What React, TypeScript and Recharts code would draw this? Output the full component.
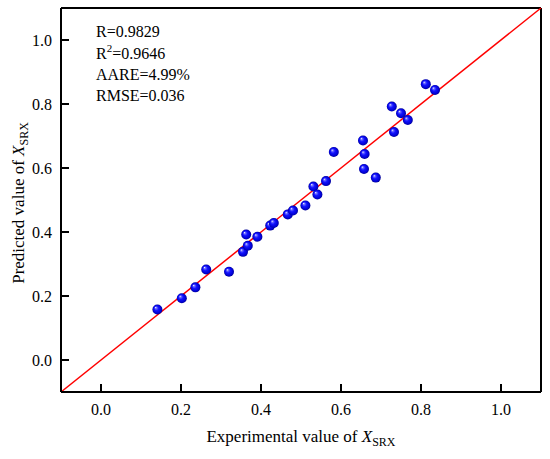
import React from 'react';
import {
  ScatterChart,
  Scatter,
  XAxis,
  YAxis,
  ReferenceLine,
  Customized,
} from 'recharts';

const expX = [0.141, 0.202, 0.236, 0.263, 0.32, 0.355, 0.367, 0.363, 0.391, 0.423, 0.432, 0.467, 0.48, 0.511, 0.531, 0.541, 0.5625, 0.582, 0.655, 0.659, 0.6575, 0.687, 0.7325, 0.727, 0.75, 0.767, 0.812, 0.835];
const predY = [0.158, 0.193, 0.227, 0.283, 0.276, 0.338, 0.357, 0.392, 0.385, 0.42, 0.428, 0.455, 0.467, 0.483, 0.542, 0.517, 0.559, 0.65, 0.686, 0.644, 0.597, 0.57, 0.7125, 0.792, 0.771, 0.75, 0.862, 0.844];
const axisTicks = [0, 0.2, 0.4, 0.6, 0.8, 1.0];
const axisDomain = [-0.1, 1.1];

const data = expX.map((x, i) => ({ x, y: predY[i] }));

const FONT = '"Liberation Serif", "Times New Roman", serif';

const Ball = (props: any) => {
  const { cx, cy } = props;
  if (cx == null || cy == null) return null;
  return <circle cx={cx} cy={cy} r={5} fill="url(#ballGrad)" />;
};

const Annotations = () => (
  <g fontFamily={FONT} fill="#000">
    <defs>
      <radialGradient id="ballGrad" cx="50%" cy="50%" r="50%" fx="32%" fy="30%">
        <stop offset="0%" stopColor="#ffffff" />
        <stop offset="18%" stopColor="#7070ff" />
        <stop offset="45%" stopColor="#1414ff" />
        <stop offset="85%" stopColor="#0000d0" />
        <stop offset="100%" stopColor="#000090" />
      </radialGradient>
    </defs>
    <text x={96} y={37} fontSize={16}>R=0.9829</text>
    <text x={96} y={59} fontSize={16}>
      R<tspan fontSize={11} dy={-7}>2</tspan>
      <tspan dy={7}>=0.9646</tspan>
    </text>
    <text x={96} y={80} fontSize={16}>AARE=4.99%</text>
    <text x={96} y={101} fontSize={16}>RMSE=0.036</text>
    <text x={301} y={442} fontSize={17} textAnchor="middle">
      Experimental value of <tspan fontStyle="italic">X</tspan>
      <tspan fontSize={12} dy={4}>SRX</tspan>
    </text>
    <text x={24} y={203} fontSize={17} textAnchor="middle" transform="rotate(-90 24 203)">
      Predicted value of <tspan fontStyle="italic">X</tspan>
      <tspan fontSize={12} dy={4}>SRX</tspan>
    </text>
  </g>
);

export default function App() {
  return (
    <div style={{ position: 'absolute', left: 0, top: 0, background: '#fff' }}>
      <ScatterChart
        width={550}
        height={459}
        margin={{ top: 8, right: 9, bottom: 27, left: 0 }}
        style={{ fontFamily: FONT }}
      >
        <XAxis
          type="number"
          dataKey="x"
          domain={axisDomain}
          ticks={axisTicks}
          allowDataOverflow
          height={40}
          tickSize={-8}
          tickMargin={20}
          tickFormatter={(v: number) => v.toFixed(1)}
          tick={{ fill: '#000', fontSize: 16, fontFamily: FONT }}
          axisLine={{ stroke: '#000', strokeWidth: 2 }}
          tickLine={{ stroke: '#000', strokeWidth: 2 }}
        />
        <YAxis
          type="number"
          dataKey="y"
          domain={axisDomain}
          ticks={axisTicks}
          allowDataOverflow
          width={61}
          tickSize={-8}
          tickMargin={17}
          tickFormatter={(v: number) => v.toFixed(1)}
          tick={{ fill: '#000', fontSize: 16, fontFamily: FONT }}
          axisLine={{ stroke: '#000', strokeWidth: 2 }}
          tickLine={{ stroke: '#000', strokeWidth: 2 }}
        />
        <ReferenceLine y={1.1} stroke="#000" strokeWidth={2} />
        <ReferenceLine x={1.1} stroke="#000" strokeWidth={2} />
        <ReferenceLine
          segment={[{ x: -0.1, y: -0.1 }, { x: 1.1, y: 1.1 }]}
          stroke="#ff0000"
          strokeWidth={1.5}
        />
        <Customized component={Annotations} />
        <Scatter data={data} shape={<Ball />} isAnimationActive={false} />
      </ScatterChart>
    </div>
  );
}
